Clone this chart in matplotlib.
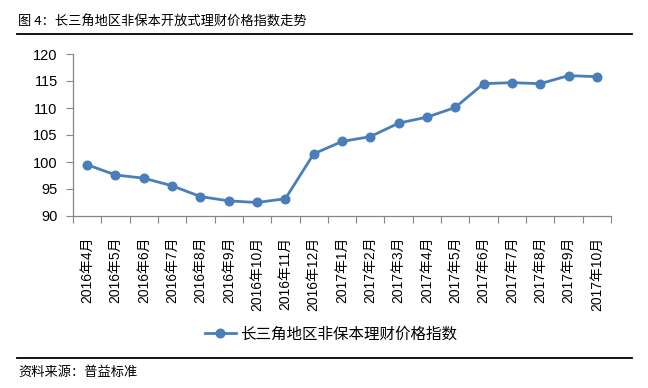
import matplotlib
matplotlib.use("Agg")
import matplotlib.pyplot as plt

plt.rcParams['font.family'] = ['Liberation Sans', 'Noto Sans CJK SC', 'DejaVu Sans']

months = ["2016年4月", "2016年5月", "2016年6月", "2016年7月", "2016年8月", "2016年9月",
          "2016年10月", "2016年11月", "2016年12月", "2017年1月", "2017年2月", "2017年3月",
          "2017年4月", "2017年5月", "2017年6月", "2017年7月", "2017年8月", "2017年9月",
          "2017年10月"]
index_values = [99.5, 97.6, 97.0, 95.6, 93.6, 92.8, 92.5, 93.2, 101.5, 103.8, 104.7,
                107.2, 108.3, 110.1, 114.5, 114.7, 114.5, 116.0, 115.8]
series_name = "长三角地区非保本理财价格指数"
title = "图 4：长三角地区非保本开放式理财价格指数走势"
source = "资料来源：普益标准"
yticks = [90, 95, 100, 105, 110, 115, 120]

fig = plt.figure(figsize=(6.48, 3.88), dpi=100)
ax = fig.add_axes([73/648, 1-216/388, (611-73)/648, (216-54)/388])

x = list(range(len(months)))
line, = ax.plot(x, index_values, color='#4A7EBB', linewidth=2.0, marker='o',
                markersize=6.2, markerfacecolor='#4A7EBB', markeredgecolor='#4A7EBB',
                label=series_name)

ax.set_ylim(90, 120)
ax.set_yticks(yticks)
ax.set_xlim(-0.5, len(months) - 0.5)
ax.set_xticks([i - 0.5 for i in range(len(months) + 1)])
ax.set_xticklabels([])
ax.set_xticks(x, minor=True)
ax.set_xticklabels(months, minor=True, rotation=90, fontsize=10)
ax.tick_params(axis='x', which='minor', length=0, pad=15)
ax.tick_params(axis='x', which='major', length=5, color='#868686', direction='out')
ax.tick_params(axis='y', length=5, color='#868686', direction='out', labelsize=10.5, pad=6)
for s in ['top', 'right']:
    ax.spines[s].set_visible(False)
for s in ['left', 'bottom']:
    ax.spines[s].set_color('#868686')
    ax.spines[s].set_linewidth(0.9)

fig.text(18/648, 1-22/388, title, fontsize=9.5, va='center', ha='left',
         family=['Noto Sans CJK SC', 'DejaVu Sans'])
fig.add_artist(plt.Line2D([17/648, 632/648], [1-34/388, 1-34/388], color='black', linewidth=1.3))
fig.add_artist(plt.Line2D([17/648, 632/648], [1-358/388, 1-358/388], color='black', linewidth=1.3))
fig.text(18/648, 1-372/388, source, fontsize=9.5, va='center', ha='left',
         family=['Noto Sans CJK SC', 'DejaVu Sans'])

leg = fig.legend(handles=[line], loc='center', bbox_to_anchor=(331/648, 1-334/388),
                 frameon=False, handlelength=2.0, handletextpad=0.3,
                 prop={'family': ['Noto Sans CJK SC', 'DejaVu Sans'], 'size': 11.2})

fig.savefig("out.png", dpi=100, facecolor='white')
